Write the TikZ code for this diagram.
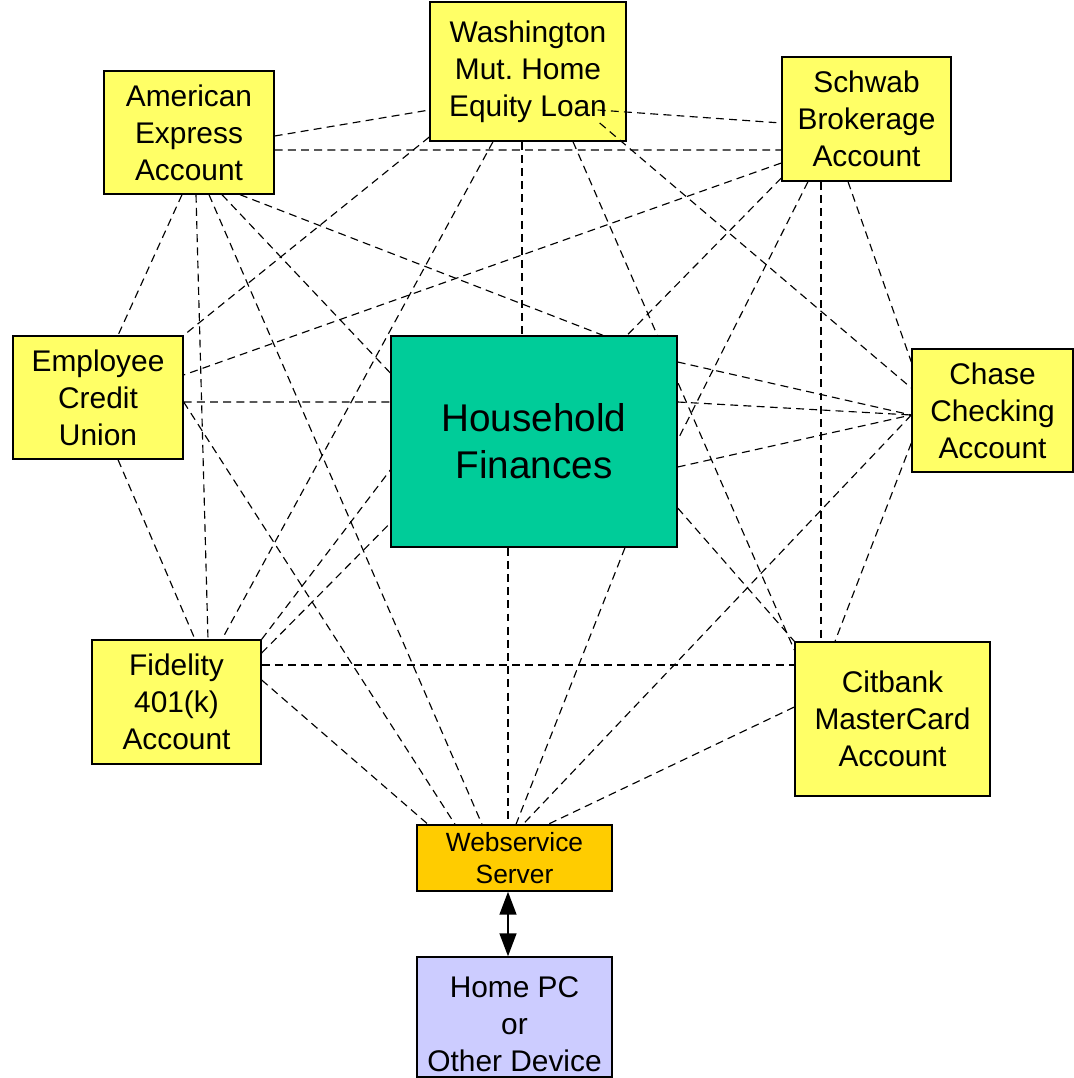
\documentclass[tikz,border=0pt]{standalone}
\usepackage{fontspec}
\setmainfont{Liberation Sans}
\usepackage{xcolor}
\usepackage{tikz}
\usetikzlibrary{calc, arrows.meta}

\definecolor{acctyellow}{HTML}{FFFF66}
\definecolor{hhgreen}{HTML}{00CC99}
\definecolor{srvorange}{HTML}{FFCC00}
\definecolor{pcblue}{HTML}{CCCCFF}

\pgfdeclarelayer{front}
\pgfsetlayers{main,front}

\begin{document}
\begin{tikzpicture}[x=0.02cm,y=-0.02cm]
	\tikzstyle{account}=[draw=black,line width=0.8pt,fill=acctyellow,align=center,inner sep=0pt,font=\fontsize{17}{21}\selectfont]
	\tikzstyle{link}=[draw=black,line width=0.65pt,dash pattern=on 4.5pt off 3pt]
	\useasboundingbox (0,0) rectangle (1074,1078);

	% the accounts round the middle
	\node[account,minimum width=3.4cm,minimum height=2.46cm](amex) at (189,132.5){American\\Express\\Account};
	\node[account,minimum width=3.92cm,minimum height=2.78cm](wamu) at (528,71.5){Washington\\Mut.\ Home\\Equity Loan};
	\node[account,minimum width=3.38cm,minimum height=2.48cm](schwab) at (866.5,119){Schwab\\Brokerage\\Account};
	\node[account,minimum width=3.4cm,minimum height=2.46cm](credit) at (98,397.5){Employee\\Credit\\Union};
	\node[account,minimum width=3.22cm,minimum height=2.46cm](chase) at (992.5,410.5){Chase\\Checking\\Account};
	\node[account,minimum width=3.38cm,minimum height=2.48cm](fidelity) at (176.5,702){Fidelity\\401(k)\\Account};
	\node[account,minimum width=3.9cm,minimum height=3.08cm](citi) at (892.5,719){Citbank\\MasterCard\\Account};

	% middle, server and client
	\begin{pgfonlayer}{front}
	\node[account,fill=hhgreen,minimum width=5.72cm,minimum height=4.22cm,font=\fontsize{22}{26.6}\selectfont](home) at (534,441.5){Household\\Finances};
	\end{pgfonlayer}
	\node[account,fill=srvorange,minimum width=3.9cm,minimum height=1.32cm,font=\fontsize{15}{18}\selectfont](server) at (514.5,858){Webservice\\Server};
	\node[account,fill=pcblue,minimum width=3.9cm,minimum height=2.4cm](pc) at (514.5,1017){\rule{0pt}{0.72cm}Home PC\\or\\Other Device};

	\path[link]
		($(amex.east)+(0,3.5)$) edge ($(wamu.west)+(0,38.5)$)
		($(amex.east)+(0,17.5)$) edge ($(schwab.west)+(0,31)$)
		($(amex.south)+(-7,0)$) edge ($(credit.north)+(20,0)$)
		($(amex.south)+(7,0)$) edge ($(fidelity.north)+(31.5,0)$)
		($(amex.south)+(20,0)$) edge ($(server.north)+(-32.5,0)$)
		($(amex.south)+(33,0)$) edge ($(home.west)+(0,-68.5)$)
		($(amex.south)+(51,0)$) edge ($(home.north)+(69,0)$)
		($(wamu.east)+(-29,38.5)$) edge ($(schwab.west)+(0,4)$)
		($(wamu.east)+(-27,51.5)$) edge ($(chase.west)+(0,-22.5)$)
		($(wamu.west)+(0,65.5)$) edge (credit.north east)
		($(wamu.south)+(-35,0)$) edge ($(fidelity.north)+(45.5,0)$)
		($(wamu.south)+(-6,0)$) edge ($(home.north)+(-12,0)$)
		($(wamu.south)+(45,0)$) edge ($(citi.west)+(0,-69)$)
		($(schwab.west)+(0,44)$) edge ($(credit.east)+(0,-22.5)$)
		($(schwab.west)+(0,59)$) edge ($(home.north)+(93,0)$)
		($(schwab.south)+(-58.5,0)$) edge ($(home.east)+(0,-1.5)$)
		($(schwab.south)+(-45.5,0)$) edge ($(citi.north)+(-71.5,0)$)
		($(schwab.south)+(-18.5,0)$) edge ($(chase.west)+(0,-48.5)$)
		($(credit.east)+(0,4.5)$) edge ($(home.west)+(0,-39.5)$)
		($(credit.east)+(0,4.5)$) edge ($(server.north)+(-59.5,0)$)
		($(credit.south)+(20,0)$) edge ($(fidelity.north)+(18.5,0)$)
		($(home.east)+(0,-79.5)$) edge ($(chase.west)+(0,4.5)$)
		($(home.east)+(0,-39.5)$) edge ($(chase.west)+(0,4.5)$)
		($(home.east)+(0,25.5)$) edge ($(chase.west)+(0,4.5)$)
		($(chase.west)+(0,4.5)$) edge ($(server.north)+(8.5,0)$)
		($(chase.west)+(0,32.5)$) edge ($(citi.north)+(-57.5,0)$)
		(fidelity.north east) edge ($(home.west)+(0,28.5)$)
		($(fidelity.east)+(0,-49)$) edge ($(home.west)+(0,81.5)$)
		($(fidelity.east)+(0,-37)$) edge ($(citi.west)+(0,-54)$)
		($(fidelity.east)+(0,-22)$) edge ($(server.north)+(-86.5,0)$)
		($(home.east)+(0,66.5)$) edge (citi.north west)
		($(home.south)+(-26,0)$) edge ($(server.north)+(-6.5,0)$)
		($(home.south)+(91,0)$) edge ($(server.north)+(1.5,0)$)
		($(citi.west)+(0,-12)$) edge ($(server.north)+(33.5,0)$);

	\draw[line width=1.2pt,{Triangle[width=9.5pt,length=13pt]}-{Triangle[width=9.5pt,length=13pt]}]
		($(server.south)+(-6.5,0)$) -- ($(pc.north)+(-6.5,0)$);
\end{tikzpicture}
\end{document}
